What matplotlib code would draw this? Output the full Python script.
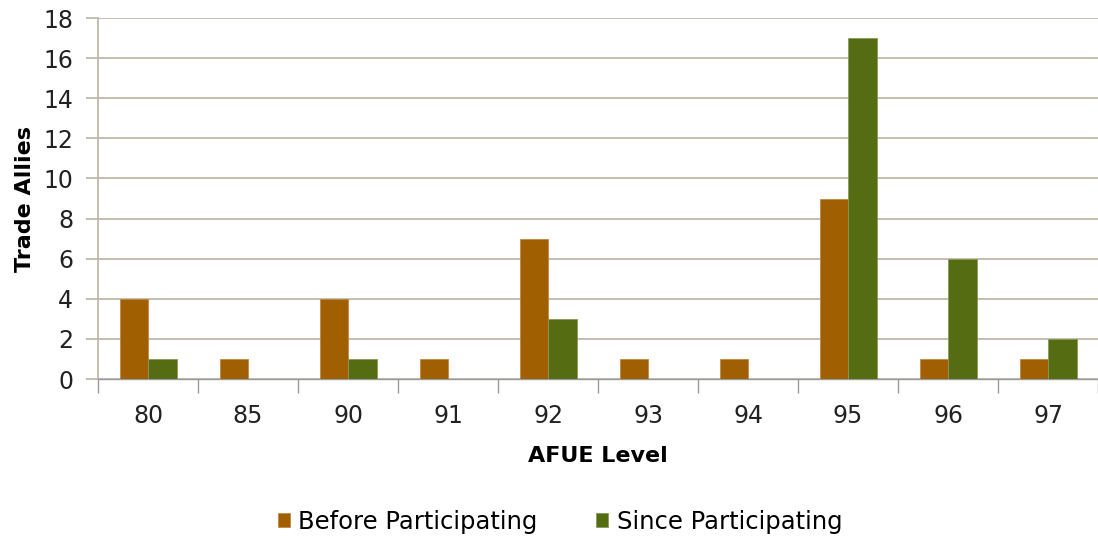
import matplotlib.pyplot as plt
import numpy as np

afue_levels = ['80', '85', '90', '91', '92', '93', '94', '95', '96', '97']
before_participating = [4, 1, 4, 1, 7, 1, 1, 9, 1, 1]
since_participating = [1, 0, 1, 0, 3, 0, 0, 17, 6, 2]

orange = '#A05F00'
green = '#566C13'
grid_color = '#BEB9AA'

plt.rcParams['font.family'] = ['DejaVu Sans']

fig = plt.figure(figsize=(10.98, 5.42), dpi=100)
ax = fig.add_axes([0.0893, 0.3007, 0.9107, 0.666])

x = np.arange(len(afue_levels))
w = 0.285
ax.bar(x - w / 2, before_participating, w, color=orange, edgecolor='#C08A40',
       linewidth=0.6, label='Before Participating', zorder=3)
ax.bar(x + w / 2, since_participating, w, color=green, edgecolor='#8A9A5A',
       linewidth=0.6, label='Since Participating', zorder=3)

ax.set_xlim(-0.5, len(afue_levels) - 0.5)
ax.set_ylim(0, 18)
ax.set_yticks(range(0, 19, 2))
ax.yaxis.grid(True, color=grid_color, linewidth=1.3, zorder=0)

# category labels sit between the boundary ticks
ax.set_xticks(x)
ax.set_xticklabels(afue_levels, fontsize=17, color='#222222')
ax.tick_params(axis='x', length=0, pad=18)
ax.set_xticks(np.arange(-0.5, len(afue_levels)), minor=True)
ax.tick_params(axis='x', which='minor', length=10, color='#9A9A9A', width=1)
ax.tick_params(axis='y', labelsize=17, labelcolor='#222222', length=9,
               color=grid_color, width=1.3, pad=9)

for s in ['top', 'right']:
    ax.spines[s].set_visible(False)
ax.spines['left'].set_color(grid_color)
ax.spines['left'].set_linewidth(1.3)
ax.spines['bottom'].set_color('#9A9A9A')
ax.spines['bottom'].set_linewidth(1.0)

ax.set_ylabel('Trade Allies', fontsize=16, fontweight='bold', labelpad=6)
ax.set_xlabel('AFUE Level', fontsize=16, fontweight='bold', labelpad=13)

fig.legend(loc='lower center', bbox_to_anchor=(0.51, -0.025), ncol=2, frameon=False,
           fontsize=17.5, handlelength=0.5, handleheight=0.5, handletextpad=0.35,
           columnspacing=2.4)

fig.savefig('out.png', dpi=100)
